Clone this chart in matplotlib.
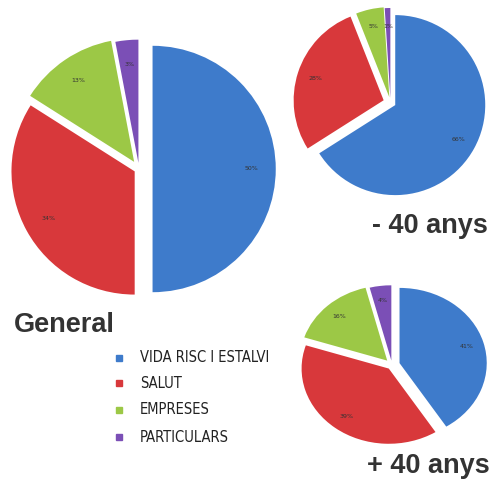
import matplotlib.pyplot as plt

categories = ['VIDA RISC I ESTALVI', 'SALUT', 'EMPRESES', 'PARTICULARS']
general = [50, 34, 13, 3]
menys40 = [66, 28, 5, 1]
mes40 = [41, 39, 16, 4]

colors = ['#3e7bcb', '#d8383b', '#9cc846', '#7b4fb6']

W, H = 491, 479
fig = plt.figure(figsize=(W / 100, H / 100), dpi=100)


def px_axes(x, y, w, h):
    # pixel box measured from the top-left corner
    return fig.add_axes([x / W, 1 - (y + h) / H, w / W, h / H])


def draw_pie(ax, vals, explode, aspect='equal'):
    wedges, texts, autotexts = ax.pie(
        vals, colors=colors, startangle=90, counterclock=False,
        explode=explode, autopct='%d%%', pctdistance=0.8,
        wedgeprops=dict(linewidth=0),
        textprops=dict(fontsize=4.5, color='#333333'))
    ax.set_aspect(aspect)
    return wedges


ax1 = px_axes(-15, 15, 308, 308)
draw_pie(ax1, general, (0.11, 0.04, 0.07, 0.05))

ax2 = px_axes(278, -10, 225, 225)
draw_pie(ax2, menys40, (0.06, 0.08, 0.06, 0.05))

# the lower pie is drawn a little flattened
ax3 = px_axes(283, 271, 218, 188)
draw_pie(ax3, mes40, (0.09, 0.06, 0.08, 0.06), aspect='auto')

title_font = dict(fontsize=19.5, fontweight='bold', color='#333333',
                  family=['Liberation Sans', 'DejaVu Sans'], va='center')
fig.text(14 / W, 1 - 325 / H, 'General', ha='left', **title_font)
fig.text(488 / W, 1 - 226 / H, '- 40 anys', ha='right', **title_font)
fig.text(490 / W, 1 - 466 / H, '+ 40 anys', ha='right', **title_font)

# legend, one square and label per category
leg_y = [358, 383, 410, 437]
for lab, col, y in zip(categories, colors, leg_y):
    fig.patches.append(plt.Rectangle((116 / W, 1 - (y + 3) / H), 6 / W, 6 / H,
                                     transform=fig.transFigure, color=col))
    fig.text(140 / W, 1 - y / H, lab, fontsize=10.5, color='#222222',
             va='center', ha='left', family='DejaVu Sans',
             fontstretch='condensed')

fig.savefig('out.png', dpi=100)
